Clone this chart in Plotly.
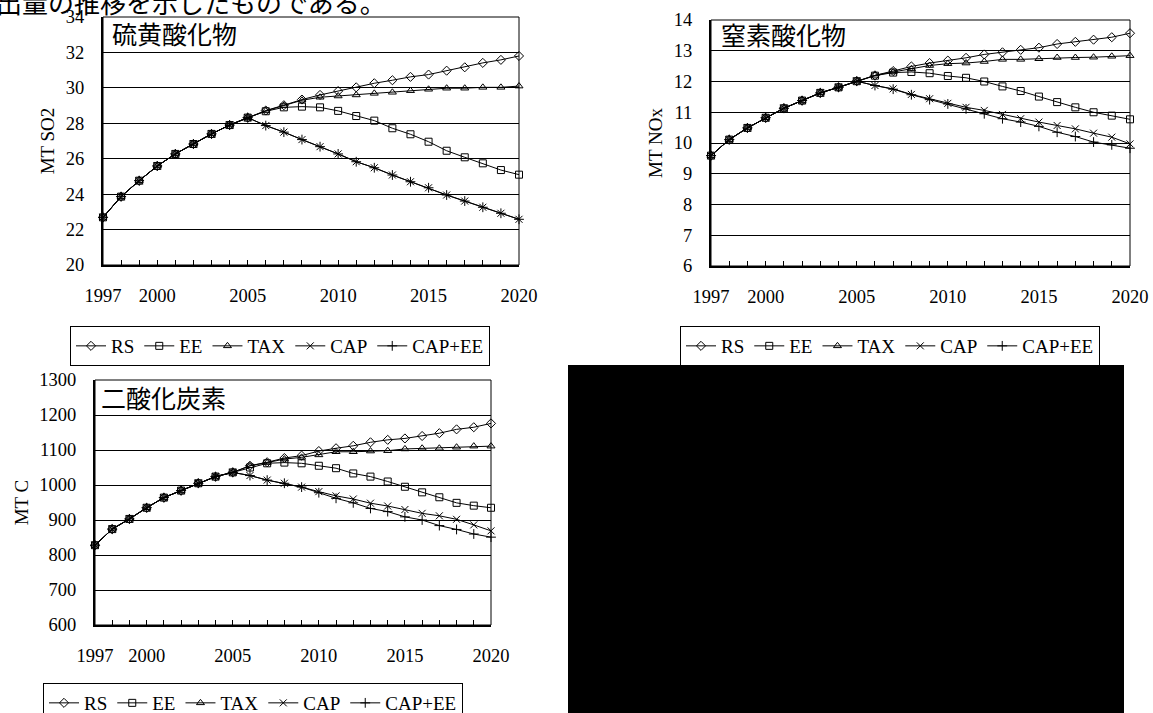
import plotly.graph_objects as go

W, H = 1153, 713

years = list(range(1997, 2021))
label_years = [1997, 2000, 2005, 2010, 2015, 2020]
series_names = ["RS", "EE", "TAX", "CAP", "CAP+EE"]

# 硫黄酸化物 (MT SO2)
so2_rs = [22.69, 23.86, 24.76, 25.59, 26.27, 26.83, 27.40, 27.90, 28.32,
          28.72, 29.02, 29.34, 29.60, 29.82, 30.03, 30.26, 30.43, 30.62, 30.75, 30.97, 31.16, 31.41, 31.58, 31.80]
so2_ee = [22.69, 23.86, 24.76, 25.59, 26.27, 26.83, 27.40, 27.90, 28.32,
          28.68, 28.90, 28.94, 28.90, 28.70, 28.41, 28.15, 27.72, 27.38, 26.96, 26.45, 26.08, 25.74, 25.36, 25.10]
so2_tax = [22.69, 23.86, 24.76, 25.59, 26.27, 26.83, 27.40, 27.90, 28.32,
           28.70, 29.00, 29.30, 29.47, 29.54, 29.60, 29.69, 29.75, 29.84, 29.92, 29.98, 29.98, 30.03, 30.03, 30.10]
so2_cap = [22.69, 23.86, 24.76, 25.59, 26.27, 26.83, 27.40, 27.90, 28.32,
           27.87, 27.50, 27.08, 26.68, 26.27, 25.83, 25.49, 25.08, 24.70, 24.36, 23.95, 23.61, 23.26, 22.92, 22.58]
so2_capee = [22.69, 23.86, 24.76, 25.59, 26.27, 26.83, 27.40, 27.90, 28.32,
             27.87, 27.50, 27.08, 26.68, 26.27, 25.83, 25.49, 25.08, 24.70, 24.36, 23.95, 23.61, 23.26, 22.92, 22.58]

# 窒素酸化物 (MT NOx)
nox_rs = [9.59, 10.11, 10.49, 10.82, 11.13, 11.38, 11.63, 11.81, 12.01,
          12.20, 12.34, 12.49, 12.60, 12.68, 12.77, 12.88, 12.95, 13.03, 13.10, 13.22, 13.29, 13.36, 13.44, 13.57]
nox_ee = [9.59, 10.11, 10.49, 10.82, 11.13, 11.38, 11.63, 11.81, 12.01,
          12.19, 12.29, 12.31, 12.27, 12.18, 12.12, 12.00, 11.84, 11.69, 11.51, 11.33, 11.16, 11.00, 10.89, 10.77]
nox_tax = [9.59, 10.11, 10.49, 10.82, 11.13, 11.38, 11.63, 11.81, 12.01,
           12.20, 12.31, 12.41, 12.52, 12.58, 12.60, 12.65, 12.72, 12.72, 12.74, 12.78, 12.78, 12.79, 12.82, 12.84]
nox_cap = [9.59, 10.11, 10.49, 10.82, 11.13, 11.38, 11.63, 11.81, 12.01,
           11.87, 11.76, 11.58, 11.44, 11.29, 11.16, 11.06, 10.93, 10.79, 10.68, 10.57, 10.46, 10.32, 10.19, 9.97]
nox_capee = [9.59, 10.11, 10.49, 10.82, 11.13, 11.38, 11.63, 11.81, 12.01,
             11.87, 11.75, 11.57, 11.41, 11.27, 11.11, 10.95, 10.79, 10.68, 10.54, 10.35, 10.21, 10.03, 9.94, 9.83]

# 二酸化炭素 (MT C)
co2_rs = [828, 874, 903, 935, 964, 984, 1005, 1024, 1036,
          1055, 1065, 1077, 1084, 1097, 1105, 1112, 1122, 1129, 1133, 1140, 1148, 1159, 1165, 1176]
co2_ee = [828, 874, 903, 935, 964, 984, 1005, 1024, 1036,
          1050, 1062, 1064, 1062, 1055, 1048, 1033, 1024, 1010, 995, 979, 965, 949, 941, 935]
co2_tax = [828, 874, 903, 935, 964, 984, 1005, 1024, 1036,
           1055, 1064, 1074, 1079, 1086, 1095, 1095, 1097, 1098, 1103, 1105, 1105, 1108, 1111, 1111]
co2_cap = [828, 874, 903, 935, 964, 984, 1005, 1024, 1036,
           1027, 1014, 1005, 994, 981, 969, 960, 948, 940, 930, 919, 912, 902, 886, 869]
co2_capee = [828, 874, 903, 935, 964, 984, 1005, 1024, 1036,
             1027, 1014, 1005, 994, 978, 962, 949, 933, 924, 909, 900, 884, 873, 860, 851]

panels = [
    dict(title="硫黄酸化物", ytitle="MT SO2", yrange=[20, 34], dtick=2,
         data=[so2_rs, so2_ee, so2_tax, so2_cap, so2_capee],
         px=(103, 519), py=(17, 265), legend_xy=(70, 326), title_xy=(110, 33)),
    dict(title="窒素酸化物", ytitle="MT NOx", yrange=[6, 14], dtick=1,
         data=[nox_rs, nox_ee, nox_tax, nox_cap, nox_capee],
         px=(711, 1130), py=(20, 266), legend_xy=(680, 326), title_xy=(719, 34)),
    dict(title="二酸化炭素", ytitle="MT C", yrange=[600, 1300], dtick=100,
         data=[co2_rs, co2_ee, co2_tax, co2_cap, co2_capee],
         px=(95, 491), py=(380, 625), legend_xy=(43, 683), title_xy=(99, 397)),
]

symbols = ["diamond-open", "square-open", "triangle-up-open", "x-thin-open", "cross-thin-open"]
serif = "Liberation Serif"
cjk = "Noto Sans CJK JP"

fig = go.Figure()
layout = dict(width=W, height=H,
              margin=dict(l=0, r=0, t=0, b=0, pad=0, autoexpand=False),
              paper_bgcolor="white", plot_bgcolor="white", showlegend=True)
shapes = []
annotations = []

for i, p in enumerate(panels):
    n = "" if i == 0 else str(i + 1)
    xa, ya = "x" + n, "y" + n
    leg = "legend" + n
    for name, vals, sym in zip(series_names, p["data"], symbols):
        fig.add_trace(go.Scatter(
            x=years, y=vals, name=name, mode="lines+markers",
            xaxis=xa, yaxis=ya, legend=leg, cliponaxis=False,
            line=dict(color="black", width=1),
            marker=dict(symbol=sym, size=7, color="black",
                        line=dict(color="black", width=1))))
    x0, x1 = p["px"]
    y0, y1 = p["py"]
    layout["xaxis" + n] = dict(
        domain=[x0 / W, x1 / W], anchor=ya, range=[1997, 2020], automargin=False,
        tickmode="array", tickvals=years,
        ticktext=[str(y) if y in label_years else "" for y in years],
        ticks="inside", ticklen=5, tickwidth=1, tickcolor="black",
        showline=True, linecolor="black", linewidth=2,
        showgrid=False, zeroline=False, ticklabelstandoff=13,
        tickfont=dict(family=serif, size=18.5, color="black"))
    layout["yaxis" + n] = dict(
        domain=[1 - y1 / H, 1 - y0 / H], anchor=xa, range=p["yrange"], automargin=False,
        dtick=p["dtick"], tick0=p["yrange"][0],
        showgrid=True, gridcolor="black", gridwidth=1,
        showline=True, linecolor="black", linewidth=2, zeroline=False,
        ticks="", ticklabelstandoff=13,
        tickfont=dict(family=serif, size=18.5, color="black"),
        title=dict(text=p["ytitle"], standoff=6,
                   font=dict(family=serif, size=19, color="black")))
    lx, ly = p["legend_xy"]
    layout[leg] = dict(
        orientation="h", x=lx / W, y=1 - ly / H, xanchor="left", yanchor="top",
        bordercolor="black", borderwidth=1, bgcolor="white",
        font=dict(family=serif, size=19, color="black"), itemwidth=30)
    shapes.append(dict(type="rect", xref=xa + " domain", yref=ya + " domain",
                       x0=0, x1=1, y0=0, y1=1, line=dict(color="black", width=1)))
    tx, ty = p["title_xy"]
    annotations.append(dict(text=p["title"], xref="paper", yref="paper",
                            x=tx / W, y=1 - ty / H, xanchor="left", yanchor="middle",
                            showarrow=False, font=dict(family=cjk, size=25, color="black")))

# top line of body text (cut off by the page edge)
annotations.append(dict(text="出量の推移を示したものである。", xref="paper", yref="paper",
                        x=-6 / W, y=1 - 1 / H, xanchor="left", yanchor="middle",
                        showarrow=False, font=dict(family=cjk, size=26, color="black")))

# black block at bottom right
shapes.append(dict(type="rect", xref="paper", yref="paper",
                   x0=568 / W, x1=1124 / W, y0=0, y1=1 - 365 / H,
                   fillcolor="black", line=dict(width=0), layer="above"))

layout["shapes"] = shapes
layout["annotations"] = annotations
fig.update_layout(**layout)
fig.write_html("out.html", config={"displayModeBar": False},
               post_script="document.body.style.margin='0';document.body.style.overflow='hidden';")
